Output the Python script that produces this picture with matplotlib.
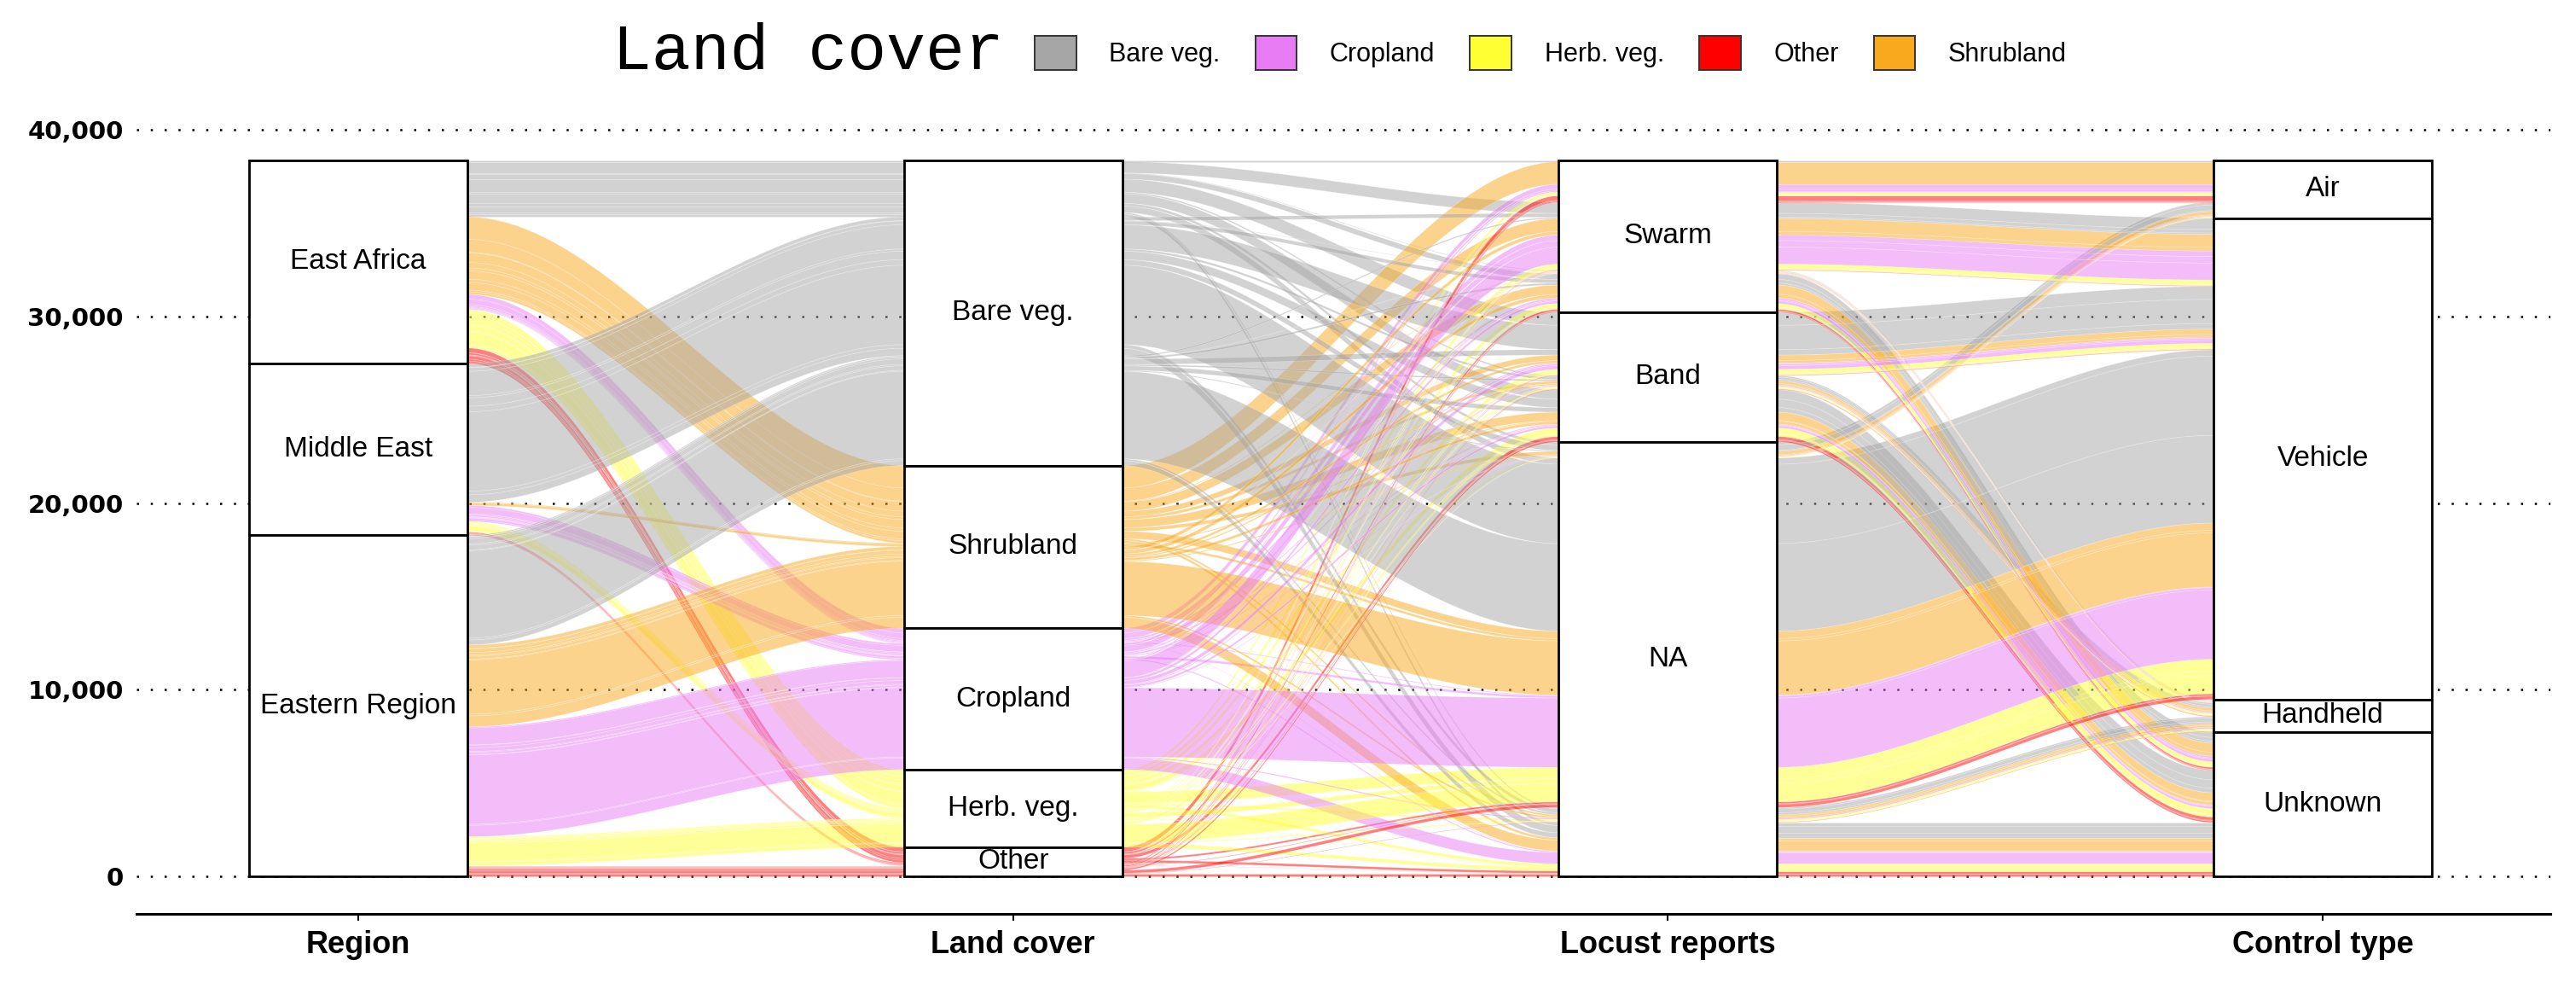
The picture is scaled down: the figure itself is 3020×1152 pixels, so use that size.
import numpy as np
import matplotlib
matplotlib.use("Agg")
import matplotlib.pyplot as plt
from matplotlib.patches import Polygon, Rectangle, Patch
from matplotlib.colors import to_rgba

# strata of each axis, listed top -> bottom as they are stacked
REGIONS = ["East Africa", "Middle East", "Eastern Region"]
LAND = ["Bare veg.", "Shrubland", "Cropland", "Herb. veg.", "Other"]
LOCUST = ["Swarm", "Band", "NA"]
CONTROL = ["Air", "Vehicle", "Handheld", "Unknown"]
AXIS_LABELS = ["Region", "Land cover", "Locust reports", "Control type"]
Y_TICKS = [0, 10000, 20000, 30000, 40000]

LEGEND_ORDER = ["Bare veg.", "Cropland", "Herb. veg.", "Other", "Shrubland"]
LAND_COLORS = {
    "Bare veg.": "#A6A6A6",
    "Cropland": "#E87CF5",
    "Herb. veg.": "#FFFF33",
    "Other": "#FF0000",
    "Shrubland": "#F9A91D",
}

# report counts per region; rows follow LAND, columns are
# Swarm: Air Vehicle Handheld Unknown | Band: ... | NA: ...
counts_east_africa = [
    [100, 600, 30, 300, 0, 700, 80, 510, 150, 340, 80, 160],
    [1200, 700, 40, 500, 0, 300, 150, 450, 180, 400, 100, 130],
    [250, 300, 0, 100, 0, 60, 0, 50, 0, 40, 0, 20],
    [150, 200, 10, 200, 0, 200, 80, 300, 50, 620, 80, 160],
    [250, 20, 0, 100, 0, 20, 30, 180, 0, 100, 0, 130],
]
counts_middle_east = [
    [0, 200, 20, 200, 0, 1300, 120, 450, 300, 4250, 200, 390],
    [0, 0, 0, 0, 0, 0, 0, 50, 0, 130, 0, 0],
    [100, 350, 10, 60, 0, 80, 20, 40, 20, 120, 0, 60],
    [30, 50, 0, 50, 0, 50, 20, 60, 0, 250, 20, 30],
    [50, 0, 0, 30, 0, 0, 0, 40, 0, 30, 0, 10],
]
counts_eastern_region = [
    [0, 70, 10, 100, 0, 290, 80, 240, 50, 4690, 100, 260],
    [0, 190, 20, 195, 0, 130, 70, 150, 50, 2900, 100, 580],
    [60, 905, 20, 140, 0, 195, 50, 110, 30, 3710, 60, 610],
    [20, 55, 10, 50, 0, 55, 30, 90, 20, 980, 50, 190],
    [50, 15, 10, 35, 0, 20, 20, 80, 0, 170, 20, 150],
]

# one row per alluvium: region, land, locust, control, count
rows = []
for r, block in enumerate([counts_east_africa, counts_middle_east, counts_eastern_region]):
    for l, vals in enumerate(block):
        for k, n in enumerate(vals):
            if n > 0:
                rows.append((r, l, k // 4, k % 4, n))
rows = np.array(rows)
total = rows[:, 4].sum()
levels = [REGIONS, LAND, LOCUST, CONTROL]

# lode ordering inside strata (zigzag guidance, like ggalluvial)
GUIDE = [[0, 1, 2, 3], [1, 0, 2, 3], [2, 3, 1, 0], [3, 2, 1, 0]]
lo = np.zeros((4, len(rows)))
hi = np.zeros((4, len(rows)))
for a in range(4):
    order = np.lexsort([rows[:, g] for g in reversed(GUIDE[a])])
    top = total
    for i in order:
        hi[a, i] = top
        top -= rows[i, 4]
        lo[a, i] = top

fig = plt.figure(figsize=(30.2, 11.52), dpi=100)
ax = fig.add_axes([160 / 3020, 1 - 1071 / 1152, 2830 / 3020, 931 / 1152])
ax.set_xlim(0.6613, 4.3477)
ax.set_ylim(-2011, 40549)

for yt in Y_TICKS:
    ax.axhline(yt, color="black", lw=1.8, ls=(0, (1, 5.5)), zorder=0)

# flows
W = 1 / 3
t = np.linspace(0, 1, 80)
s = t * t * (3 - 2 * t)
for i in range(len(rows)):
    color = to_rgba(LAND_COLORS[LAND[rows[i, 1]]], 0.5)
    for a in range(3):
        x0, x1 = a + 1 + W / 2, a + 2 - W / 2
        xs = x0 + (x1 - x0) * t
        top = hi[a, i] + (hi[a + 1, i] - hi[a, i]) * s
        bot = lo[a, i] + (lo[a + 1, i] - lo[a, i]) * s
        poly = np.column_stack([np.r_[xs, xs[::-1]], np.r_[top, bot[::-1]]])
        ax.add_patch(Polygon(poly, closed=True, fc=color, ec=(1, 1, 1, 0.3),
                             lw=0.5, zorder=2))

# strata
for a in range(4):
    top = total
    for k, name in enumerate(levels[a]):
        size = rows[rows[:, a] == k, 4].sum()
        ax.add_patch(Rectangle((a + 1 - W / 2, top - size), W, size, fc="white",
                               ec="black", lw=2.0, zorder=3))
        ax.text(a + 1, top - size / 2, name, ha="center", va="center", fontsize=24,
                family="Liberation Sans", zorder=4)
        top -= size

ax.set_xticks([1, 2, 3, 4])
ax.set_xticklabels(AXIS_LABELS, fontsize=26, fontweight="bold", family="Liberation Sans")
ax.set_yticks(Y_TICKS)
ax.set_yticklabels([f"{v:,}" for v in Y_TICKS], fontsize=21, fontweight="bold",
                   family="DejaVu Sans")
ax.tick_params(axis="x", length=6, width=1.5, pad=8)
ax.tick_params(axis="y", length=0, pad=11)
for side in ["top", "right", "left"]:
    ax.spines[side].set_visible(False)
ax.spines["bottom"].set_linewidth(2.2)

# legend
fig.text(718 / 3020, 1 - 62 / 1152, "Land cover", fontsize=55, family="Liberation Mono",
         ha="left", va="center")
handles = [Patch(fc=LAND_COLORS[n], ec="#333333", lw=1.4) for n in LEGEND_ORDER]
fig.legend(handles, LEGEND_ORDER, ncol=5, loc="center left",
           bbox_to_anchor=(1213 / 3020, 1 - 62 / 1152), frameon=False,
           prop={"family": "Liberation Sans", "size": 22},
           handlelength=1.6, handleheight=1.63, handletextpad=1.26,
           columnspacing=1.34, borderpad=0, borderaxespad=0)

fig.savefig("out.png", dpi=100, facecolor="white")
